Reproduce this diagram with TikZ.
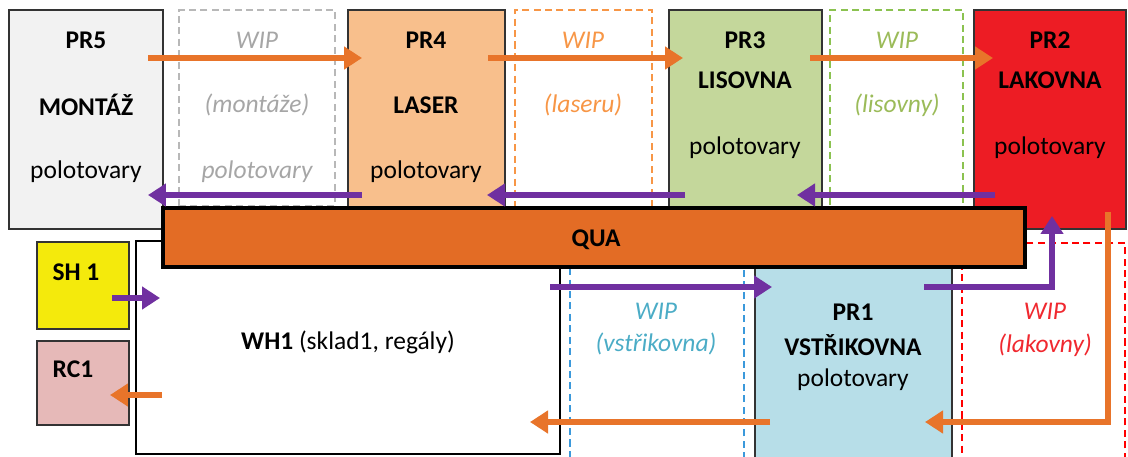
\documentclass[tikz,border=0pt]{standalone}
\usepackage{fontspec}
\setmainfont{Carlito}
\usetikzlibrary{arrows.meta, calc}
\definecolor{my_gray}{HTML}{F2F2F2}
\definecolor{my_peach}{HTML}{F8BF8C}
\definecolor{my_green}{HTML}{C4D79B}
\definecolor{my_red}{HTML}{ED1C24}
\definecolor{my_blue}{HTML}{B7DEE8}
\definecolor{my_yellow}{HTML}{F4EA0C}
\definecolor{my_pink}{HTML}{E6B9B8}
\definecolor{my_qua}{HTML}{E36C25}
\definecolor{my_orange}{HTML}{E8742A}
\definecolor{my_purple}{HTML}{7030A0}
\definecolor{wip_gray}{HTML}{A6A6A6}
\definecolor{wip_orange}{HTML}{F79646}
\definecolor{wip_green}{HTML}{9BBB59}
\definecolor{wip_blue}{HTML}{4BACC6}
\definecolor{wip_red}{HTML}{F0282F}

\tikzset{
    boxsize/.style 2 args={minimum width={#1*0.02cm}, minimum height={#2*0.02cm}},
    box/.style={draw=black!80, line width=0.8pt, anchor=north west,
        inner sep=0pt, outer sep=0pt},
    wipbox/.style={draw=#1, line width=0.6pt, dash pattern=on 4pt off 2.5pt,
        anchor=north west, inner sep=0pt, outer sep=0pt},
    title/.style={font=\fontsize{14.5}{17}\selectfont\bfseries},
    txt/.style={font=\fontsize{14.5}{17}\selectfont},
    wiptxt/.style={font=\fontsize{14.5}{17}\selectfont\itshape, text=#1},
    flow/.style={draw=#1, line width=0.12cm,
        -{Triangle[length=0.36cm, width=0.44cm]}}
}

\begin{document}
\begin{tikzpicture}[x=0.02cm, y=-0.02cm]

\useasboundingbox (0,0) rectangle (1128,456);
\clip (0,0) rectangle (1128,456);

% WIP areas (dashed), drawn first
\node[wipbox=wip_gray!80, boxsize={156}{196}] (wip5) at (179,10) {};
\node[wipbox=wip_orange, boxsize={137}{197}] (wip4) at (515,10) {};
\node[wipbox=wip_green!90!green, boxsize={133}{197}] (wip3) at (830,10) {};
\node[wipbox=cyan!70!blue!80, boxsize={174}{200}] (wip1) at (570,268) {};
\node[wipbox=red, boxsize={163}{225}] (wip2) at (962,243) {};

% Workplaces in the top row
\node[box, fill=my_gray, boxsize={154}{219}] (pr5) at (9,10) {};
\node[box, fill=my_peach, boxsize={157}{198}] (pr4) at (348,10) {};
\node[box, fill=my_green, boxsize={153}{198}] (pr3) at (669,10) {};
\node[box, fill=my_red, boxsize={152}{219}] (pr2) at (974,10) {};

% Bottom row: store, inputs and PR1
\node[box, fill=my_yellow, boxsize={92}{87}] (sh1) at (37,242) {};
\node[box, fill=my_pink, boxsize={92}{84}] (rc1) at (37,341) {};
\node[box, draw=black, line width=1.4pt, fill=white, boxsize={424}{213}] (wh1) at (136,241) {};
\node[box, fill=my_blue, boxsize={197}{200}] (pr1) at (755,268) {};

% Quality bar on top of everything
\node[box, draw=black, line width=2.2pt, fill=my_qua, boxsize={862}{59}] (qua) at (163,208) {};

% Labels, top row
\node[title] (pr5-a) at (86,40) {PR5};
\node[title] (pr5-b) at (86,105) {MONTÁŽ};
\node[txt] (pr5-c) at (86,172) {polotovary};
\node[wiptxt=wip_gray] (wip5-a) at (257,40) {WIP};
\node[wiptxt=wip_gray] (wip5-b) at (257,105) {(montáže)};
\node[wiptxt=wip_gray] (wip5-c) at (257,172) {polotovary};
\node[title] (pr4-a) at (426,40) {PR4};
\node[title] (pr4-b) at (426,105) {LASER};
\node[txt] (pr4-c) at (426,172) {polotovary};
\node[wiptxt=wip_orange] (wip4-a) at (583,40) {WIP};
\node[wiptxt=wip_orange] (wip4-b) at (583,105) {(laseru)};
\node[title] (pr3-a) at (745,40) {PR3};
\node[title] (pr3-b) at (745,80) {LISOVNA};
\node[txt] (pr3-c) at (745,148) {polotovary};
\node[wiptxt=wip_green] (wip3-a) at (897,40) {WIP};
\node[wiptxt=wip_green] (wip3-b) at (897,105) {(lisovny)};
\node[title] (pr2-a) at (1050,40) {PR2};
\node[title] (pr2-b) at (1050,80) {LAKOVNA};
\node[txt] (pr2-c) at (1050,148) {polotovary};

% Labels, bottom row
\node[title] (qua-a) at (596,240) {QUA};
\node[title] (sh1-a) at (76,272) {SH 1};
\node[title] (rc1-a) at (73,369) {RC1};
\node[txt] (wh1-a) at (348,342) {\textbf{WH1} (sklad1, regály)};
\node[wiptxt=wip_blue] (wip1-a) at (656,311) {WIP};
\node[wiptxt=wip_blue] (wip1-b) at (656,344) {(vstřikovna)};
\node[title] (pr1-a) at (853,312) {PR1};
\node[title] (pr1-b) at (853,345) {VSTŘIKOVNA};
\node[txt] (pr1-c) at (853,380) {polotovary};
\node[wiptxt=wip_red] (wip2-a) at (1045,311) {WIP};
\node[wiptxt=wip_red] (wip2-b) at (1045,345) {(lakovny)};

% Arrow ends
\coordinate (o1) at (148,58);  \coordinate (o2) at (362,58);
\coordinate (o3) at (488,58);  \coordinate (o4) at (683,58);
\coordinate (o5) at (810,58);  \coordinate (o6) at (993,58);
\coordinate (p1) at (362,195); \coordinate (p2) at (148,195);
\coordinate (p3) at (685,195); \coordinate (p4) at (487,195);
\coordinate (p5) at (995,195); \coordinate (p6) at (797,195);
\coordinate (s1) at (112,298); \coordinate (s2) at (160,298);
\coordinate (r1) at (162,395); \coordinate (r2) at (110,395);
\coordinate (w1) at (550,287); \coordinate (w2) at (772,287);
\coordinate (v1) at (924,287); \coordinate (v2) at (1052,216);
\coordinate (l1) at (1108,212); \coordinate (l2) at (925,422);
\coordinate (b1) at (770,422); \coordinate (b2) at (530,422);

% Material flow forward (orange)
\draw[flow=my_orange] (o1) -- (o2);
\draw[flow=my_orange] (o3) -- (o4);
\draw[flow=my_orange] (o5) -- (o6);
\draw[flow=my_orange] (r1) -- (r2);
\draw[flow=my_orange] (l1) |- (l2);
\draw[flow=my_orange] (b1) -- (b2);

% Flow back (purple)
\draw[flow=my_purple] (p1) -- (p2);
\draw[flow=my_purple] (p3) -- (p4);
\draw[flow=my_purple] (p5) -- (p6);
\draw[flow=my_purple] (s1) -- (s2);
\draw[flow=my_purple] (w1) -- (w2);
\draw[flow=my_purple] (v1) -| (v2);

\end{tikzpicture}
\end{document}
